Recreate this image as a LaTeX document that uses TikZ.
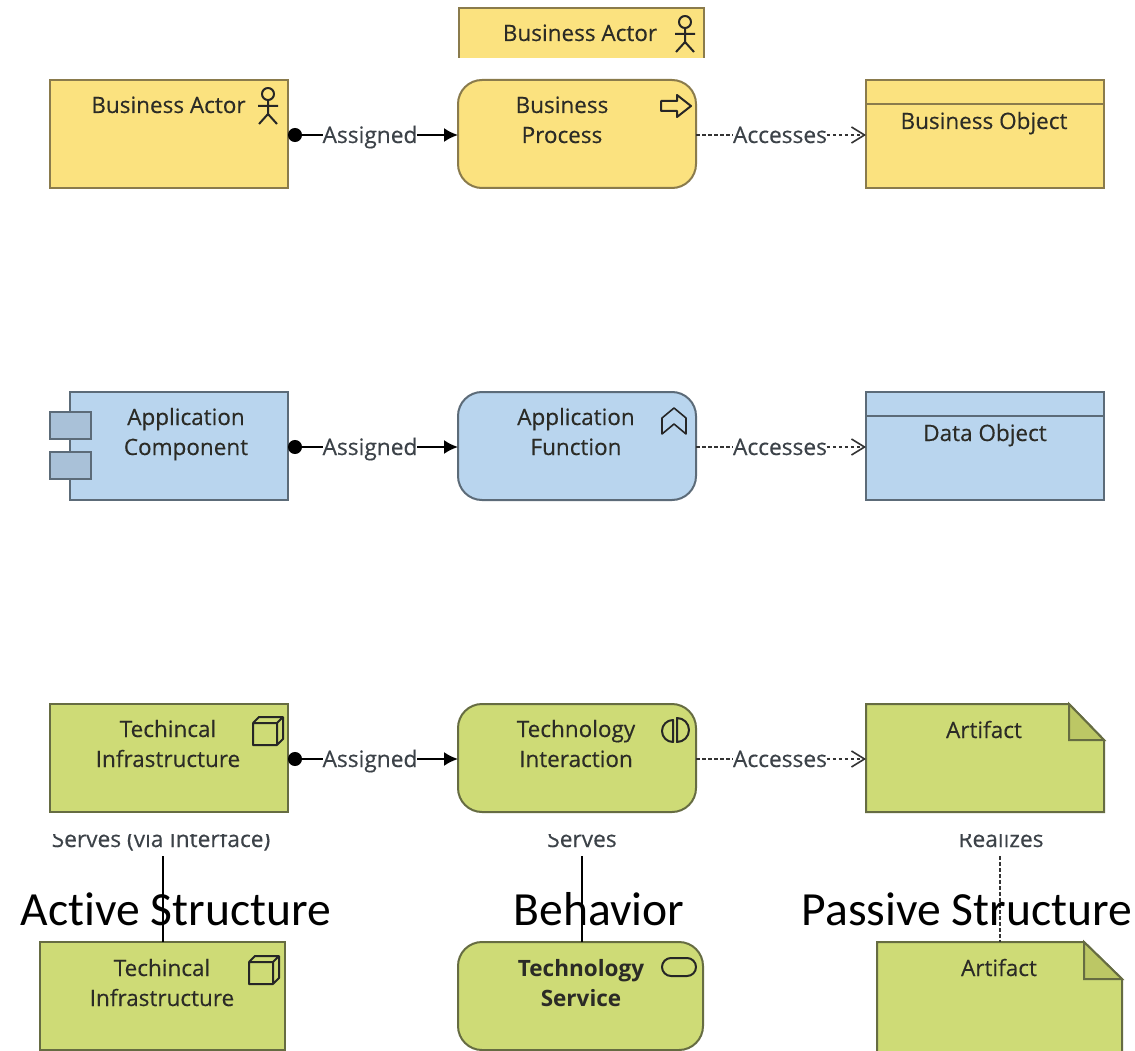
\documentclass[tikz,border=0pt]{standalone}
\usepackage{fontspec}
\setmainfont{Open Sans}
\newfontfamily\labfont{Open Sans}[FakeBold=0.35]
\newfontfamily\bigfont{Carlito}[Ligatures=NoCommon]
\usetikzlibrary{arrows.meta,positioning}
\definecolor{ybg}{HTML}{FBE27F}\definecolor{yln}{HTML}{8A7B4C}
\definecolor{bbg}{HTML}{B9D5EE}\definecolor{bln}{HTML}{5C6B78}\definecolor{bdk}{HTML}{A9C1D8}
\definecolor{gbg}{HTML}{CEDB76}\definecolor{gln}{HTML}{666C42}\definecolor{gdk}{HTML}{BCC765}
\definecolor{txt}{HTML}{2B2B26}\definecolor{lnk}{HTML}{3C4248}
\tikzset{
  x=1pt,y=-1pt,
  boxsize/.style={minimum width=238pt,minimum height=108pt,inner sep=0pt,outer sep=0pt,line width=2pt},
  wide/.style={minimum width=245pt},
  plainbox/.style={boxsize,draw},
  roundbox/.style={boxsize,draw,rounded corners=24pt},
  ybox/.style={fill=ybg,draw=yln},
  bbox/.style={fill=bbg,draw=bln},
  gbox/.style={fill=gbg,draw=gln},
  lab/.style={font=\labfont\fontsize{22.5}{30}\selectfont,text=txt,align=center,inner sep=0pt,anchor=base},
  link/.style={font=\labfont\fontsize{22.7}{30}\selectfont,text=lnk,inner sep=0pt,anchor=base,outer sep=0pt},
  cut/.style={link},
  big/.style={font=\bigfont\fontsize{47.6}{56}\selectfont,text=black,inner sep=0pt},
  conn/.style={line width=2pt,draw=black},
  assignstart/.style={conn,{Circle[length=14pt,width=14pt]}-},
  assignend/.style={conn,-{Latex[length=14pt,width=14pt]}},
  acc/.style={line width=1.6pt,draw=black!80,dash pattern=on 3.5pt off 2.5pt},
  accend/.style={acc,-{Straight Barb[length=13pt,width=16pt]}},
  icon/.style={line width=2pt,draw=black!85,line join=round},
  actor/.pic={\draw[icon] (0,-12) circle (6);\draw[icon] (0,-6) -- (0,8) (-10,0) -- (10,0) (-9,18) -- (0,8) -- (9,18);},
  cube/.pic={\draw[icon] (-15,-8) rectangle (9,14) (-15,-8) -- (-9,-14) -- (15,-14) -- (15,8) -- (9,14) (9,-8) -- (15,-14);},
  procicon/.pic={\draw[icon] (-15,-5) -- (1,-5) -- (1,-11) -- (15,0) -- (1,11) -- (1,5) -- (-15,5) -- cycle;},
  funcicon/.pic={\draw[icon,line width=1.6pt] (-12,13) -- (-12,-3) -- (0,-13) -- (12,-3) -- (12,13) -- (0,3) -- cycle;},
  interact/.pic={\draw[icon] (-2,12) arc (90:270:11) -- cycle (2,12) arc (90:-90:12) -- cycle;},
  svcicon/.pic={\draw[icon,rounded corners=9pt] (-17,-9) rectangle (17,9);},
}
\begin{document}
\begin{tikzpicture}
\useasboundingbox (0,0) rectangle (1135,1051);
\clip (0,0) rectangle (1135,1051);
\fill[white] (0,0) rectangle (1135,1051);

% top clipped actor
\begin{scope}
\clip (450,0) rectangle (712,58);
\node[plainbox,ybox,wide,anchor=north west] (topactor) at (459,8) {};
\end{scope}
\node[lab] (topactortext) at (580,41) {Business Actor};
\pic at (685,34) {actor};

% row 1
\node[plainbox,ybox] (actor) at (169,134) {};
\node[roundbox,ybox] (process) at (577,134) {};
\node[plainbox,ybox] (object) at (985,134) {};
\draw[yln,line width=2pt] (object.west |- 0,104) -- (object.east |- 0,104);
\node[lab] (actortext) at (168.5,113) {Business Actor};
\pic at (268,106) {actor};
\node[lab] (processtext) at (562,143) {Business\\Process};
\pic at (676,106) {procicon};
\node[lab] (objecttext) at (984,129) {Business Object};
\node[link] (as1) at (370,143) {Assigned};
\node[link] (ac1) at (780,143) {Accesses};
\coordinate (as1w) at (as1.west |- 0,135);
\coordinate (as1e) at (as1.east |- 0,135);
\coordinate (ac1w) at (ac1.west |- 0,135);
\coordinate (ac1e) at (ac1.east |- 0,135);
\draw[assignstart] (actor.east |- as1w) -- (as1w);
\draw[assignend] (as1e) -- (process.west |- as1e);
\draw[acc] (process.east |- ac1w) -- (ac1w);
\draw[accend] (ac1e) -- (object.west |- ac1e);

% row 2
\node[boxsize,draw,bbox,minimum width=218pt] (comp) at (179,446) {};
\node[draw=bln,fill=bdk,line width=2pt,minimum width=41pt,minimum height=27pt,inner sep=0pt] (lug1) at (70,425.5) {};
\node[draw=bln,fill=bdk,line width=2pt,minimum width=41pt,minimum height=27pt,inner sep=0pt] (lug2) at (70,465.5) {};
\node[roundbox,bbox] (func) at (577,446) {};
\node[plainbox,bbox] (data) at (985,446) {};
\draw[bln,line width=2pt] (data.west |- 0,416) -- (data.east |- 0,416);
\node[lab] (comptext) at (186,455) {Application\\Component};
\node[lab] (functext) at (576,455) {Application\\Function};
\pic at (674,421) {funcicon};
\node[lab] (datatext) at (985,441) {Data Object};
\node[link] (as2) at (370,455) {Assigned};
\node[link] (ac2) at (780,455) {Accesses};
\coordinate (as2w) at (as2.west |- 0,447);
\coordinate (as2e) at (as2.east |- 0,447);
\coordinate (ac2w) at (ac2.west |- 0,447);
\coordinate (ac2e) at (ac2.east |- 0,447);
\draw[assignstart] (comp.east |- as2w) -- (as2w);
\draw[assignend] (as2e) -- (func.west |- as2e);
\draw[acc] (func.east |- ac2w) -- (ac2w);
\draw[accend] (ac2e) -- (data.west |- ac2e);

% row 3
\node[plainbox,gbox] (tech) at (169,758) {};
\node[roundbox,gbox] (inter) at (577,758) {};
\node[boxsize] (art) at (985,758) {};
\draw[gbox,line width=2pt] (866,704) -- (1069,704) -- (1104,740) -- (1104,812) -- (866,812) -- cycle;
\draw[gln,fill=gdk,line width=2pt] (1069,704) -- (1104,740) -- (1069,740) -- cycle;
\node[lab] (techtext) at (168,767) {Techincal\\Infrastructure};
\pic at (268,731) {cube};
\node[lab] (intertext) at (576,767) {Technology\\Interaction};
\pic at (675,730) {interact};
\node[lab] (arttext) at (984,738) {Artifact};
\node[link] (as3) at (370,767) {Assigned};
\node[link] (ac3) at (780,767) {Accesses};
\coordinate (as3w) at (as3.west |- 0,759);
\coordinate (as3e) at (as3.east |- 0,759);
\coordinate (ac3w) at (ac3.west |- 0,759);
\coordinate (ac3e) at (ac3.east |- 0,759);
\draw[assignstart] (tech.east |- as3w) -- (as3w);
\draw[assignend] (as3e) -- (inter.west |- as3e);
\draw[acc] (inter.east |- ac3w) -- (ac3w);
\draw[accend] (ac3e) -- (art.west |- ac3e);

% clipped labels
\begin{scope}
\clip (30,834) rectangle (1110,870);
\node[cut] (l1) at (161,847) {Serves (via Interface)};
\node[cut] (l2) at (582,847) {Serves};
\node[cut] (l3) at (1001,847) {Realizes};
\end{scope}

% row 4
\node[plainbox,gbox,wide] (tech2) at (162.5,996) {};
\node[roundbox,gbox,wide] (svc) at (580.5,996) {};
\node[boxsize,wide] (art2) at (999.5,996) {};
\draw[gbox,line width=2pt] (877,942) -- (1084,942) -- (1122,979) -- (1122,1060) -- (877,1060) -- cycle;
\draw[gln,fill=gdk,line width=2pt] (1084,942) -- (1122,979) -- (1084,979) -- cycle;
\node[lab] (tech2text) at (162,1006) {Techincal\\Infrastructure};
\pic at (264,970) {cube};
\node[lab,font=\rmfamily\bfseries\fontsize{22.5}{30}\selectfont] (svctext) at (581,1006) {Technology\\Service};
\pic at (679,967) {svcicon};
\node[lab] (art2text) at (999,976) {Artifact};

\coordinate (s1) at (163,856);
\coordinate (s2) at (582,856);
\coordinate (s3) at (1000,856);
\draw[conn] (s1) -- (s1 |- tech2.north);
\draw[conn] (s2) -- (s2 |- svc.north);
\draw[acc,line width=2pt] (s3) -- (s3 |- art2.north);

% headings
\node[big] (h1) at (176,909) {Active Structure};
\node[big] (h2) at (599,909) {Behavior};
\node[big] (h3) at (967,909) {Passive Structure};
\end{tikzpicture}
\end{document}
